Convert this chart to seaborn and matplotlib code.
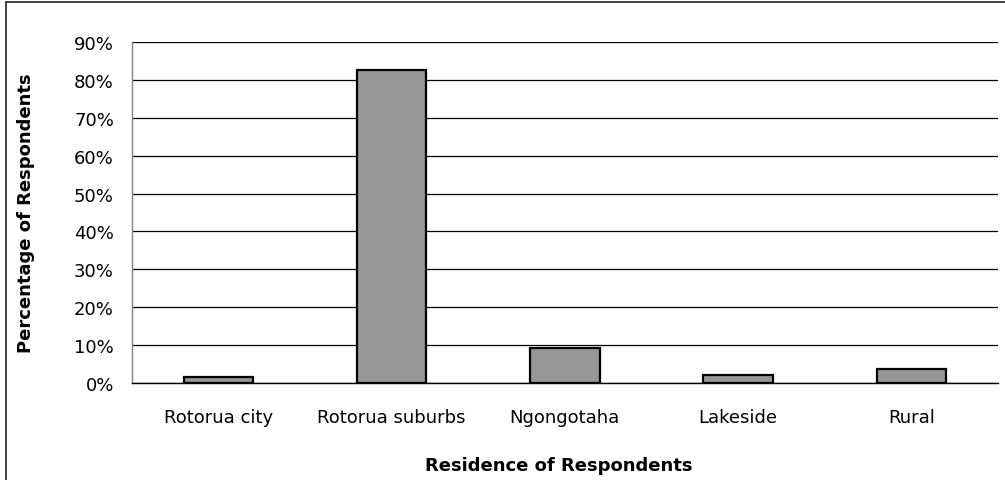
import matplotlib
matplotlib.use('Agg')
import matplotlib.pyplot as plt
import seaborn as sns
import pandas as pd
import numpy as np
from matplotlib.lines import Line2D
from matplotlib.ticker import FixedLocator

# Data
residences = ['Rotorua city', 'Rotorua suburbs', 'Ngongotaha', 'Lakeside', 'Rural']
percentages = [1.7, 82.6, 9.2, 2.1, 3.8]
y_ticks = [0, 10, 20, 30, 40, 50, 60, 70, 80, 90]

df = pd.DataFrame({'Residence': residences, 'Percent': percentages})

sns.set_style('white')
plt.rcParams['font.family'] = ['DejaVu Sans']
plt.rcParams['text.color'] = 'black'
plt.rcParams['axes.labelcolor'] = 'black'
plt.rcParams['xtick.color'] = 'black'
plt.rcParams['ytick.color'] = 'black'

W, H = 1005, 481
fig = plt.figure(figsize=(W / 100, H / 100), dpi=100)
left, right, top, bottom = 131.7, 998, 43, 384
ax = fig.add_axes([left / W, 1 - bottom / H, (right - left) / W, (bottom - top) / H])

sns.barplot(data=df, x='Residence', y='Percent', color='#969696', edgecolor='black',
            linewidth=1.6, width=0.4, saturation=1, ax=ax)

ax.set_ylim(0, 90)
ax.set_xlim(-0.5, len(residences) - 0.5)
ax.set_yticks(y_ticks)
ax.set_yticklabels([f'{t}%' for t in y_ticks], fontsize=13)
ax.yaxis.grid(True, color='black', linewidth=0.9)
ax.set_axisbelow(True)

# category labels centered, tick marks between categories
ax.tick_params(axis='x', which='major', length=0, labelsize=13, pad=18)
ax.xaxis.set_minor_locator(FixedLocator(np.arange(-0.5, len(residences), 1)))
ax.tick_params(axis='x', which='minor', length=4.5, width=1, color='black', direction='out')
ax.tick_params(axis='y', length=6.3, width=1, color='black', direction='out', pad=6.5)

for side in ['top', 'right']:
    ax.spines[side].set_visible(False)
ax.spines['left'].set_color('#808080')
ax.spines['left'].set_linewidth(1)
ax.spines['bottom'].set_color('black')
ax.spines['bottom'].set_linewidth(1)

ax.set_xlabel('Residence of Respondents', fontsize=13, fontweight='bold')
ax.set_ylabel('Percentage of Respondents', fontsize=13, fontweight='bold')
ax.xaxis.set_label_coords((559 - left) / (right - left), (bottom - 457) / (bottom - top))
ax.yaxis.set_label_coords((35 - left) / (right - left), 0.5)

# outer chart border (only left and top edges visible in the reference)
fig.add_artist(Line2D([6 / W, 6 / W], [0, 1 - 3 / H], transform=fig.transFigure,
                      color='#333333', linewidth=1.3))
fig.add_artist(Line2D([6 / W, 1], [1 - 3 / H, 1 - 3 / H], transform=fig.transFigure,
                      color='#333333', linewidth=1.3))

fig.savefig('out.png', dpi=100)
